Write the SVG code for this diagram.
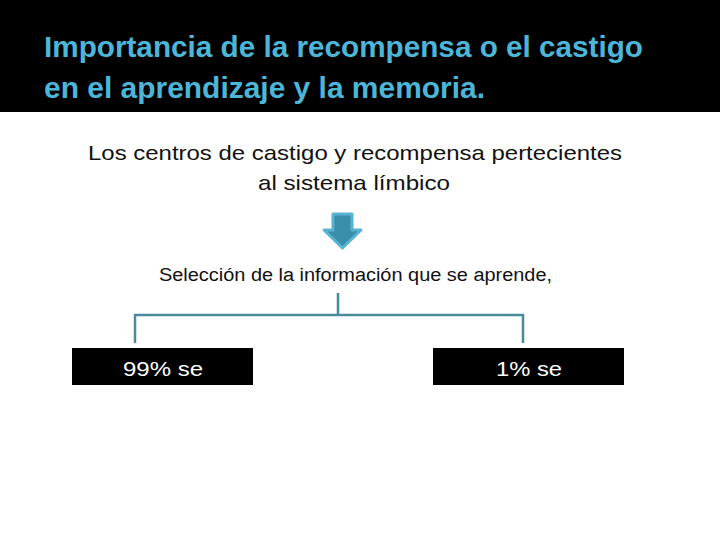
<svg xmlns="http://www.w3.org/2000/svg" width="720" height="540" viewBox="0 0 720 540">
<style>
.t{font-family:"Liberation Sans",Arial,sans-serif;fill:#111}
.title{font-family:"Liberation Sans",Arial,sans-serif;font-size:30px;font-weight:bold;fill:#4cb6d8}
.box{fill:#000}
.bt{font-family:"Liberation Sans",Arial,sans-serif;font-size:21px;fill:#fff}
.con{fill:none;stroke:#4a8c9c;stroke-width:2.5}
</style>
<rect width="720" height="540" fill="#fff"/>
<rect x="0" y="0" width="720" height="112" fill="#000"/>
<g id="title">
<text class="title" x="44" y="57" textLength="599" lengthAdjust="spacingAndGlyphs">Importancia de la recompensa o el castigo</text>
<text class="title" x="44" y="98" textLength="441" lengthAdjust="spacingAndGlyphs">en el aprendizaje y la memoria.</text>
</g>
<g id="centros">
<text class="t" x="88" y="160" font-size="21" textLength="534" lengthAdjust="spacingAndGlyphs">Los centros de castigo y recompensa pertecientes</text>
<text class="t" x="258" y="190" font-size="21" textLength="192" lengthAdjust="spacingAndGlyphs">al sistema límbico</text>
</g>
<g id="arrow">
<path d="M333,214 H352 V230 H361 L342.5,248 L324,230 H333 Z" fill="#3a8fa8" stroke="#5ab2d2" stroke-width="3" stroke-linejoin="round"/>
</g>
<g id="seleccion">
<text class="t" x="159" y="281" font-size="18" textLength="393" lengthAdjust="spacingAndGlyphs">Selección de la información que se aprende,</text>
</g>
<g id="connectors">
<path class="con" d="M338,293 V314 M135,343 V315 H523 V343"/>
</g>
<g id="left">
<rect class="box" x="72" y="348" width="181" height="37"/>
<text class="bt" x="123" y="376" textLength="80" lengthAdjust="spacingAndGlyphs">99% se</text>
</g>
<g id="right">
<rect class="box" x="433" y="348" width="191" height="37"/>
<text class="bt" x="496" y="376" textLength="66" lengthAdjust="spacingAndGlyphs">1% se</text>
</g>
</svg>
